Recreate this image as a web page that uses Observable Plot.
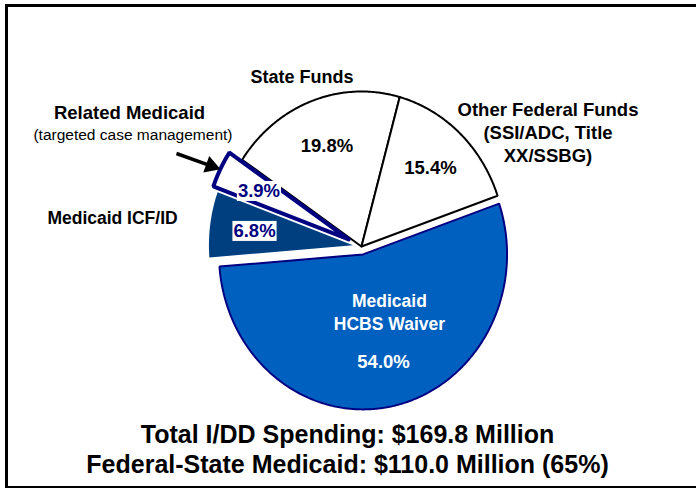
<!DOCTYPE html>
<html><head><meta charset="utf-8">
<script src="https://cdn.jsdelivr.net/npm/d3@7"></script>
<script src="https://cdn.jsdelivr.net/npm/@observablehq/plot@0.6"></script>
<style>
body{margin:0;background:#fff;}
#wrap{position:relative;width:696px;height:489px;overflow:hidden;background:#fff;}
#chart{position:absolute;left:0;top:0;}
#frame{position:absolute;left:5px;top:4px;width:740px;height:479px;border-left:3px solid #000;border-top:3px solid #000;border-bottom:2px solid #000;pointer-events:none;}
</style></head><body><div id="wrap"><div id="chart"></div><div id="frame"></div></div>
<script>
// ---- data ----
const categories = ["Other Federal Funds", "Medicaid HCBS Waiver", "Medicaid ICF/ID", "Related Medicaid", "State Funds"];
const shares = [15.4, 54.0, 6.8, 3.9, 19.8];
const pctLabels = ["15.4%", "54.0%", "6.8%", "3.9%", "19.8%"];
const nameLabels = ["Other Federal Funds\n(SSI/ADC, Title\nXX/SSBG)", "Medicaid\nHCBS Waiver", "Medicaid ICF/ID", "Related Medicaid", "State Funds"];
const noteLabel = "(targeted case management)";
const footerLines = ["Total I/DD Spending: $169.8 Million", "Federal-State Medicaid: $110.0 Million (65%)"];

// ---- styles / layout (pie-relative units: radius = 1) ----
const startDeg = 15.4;
const sliceStyle = {
  "Other Federal Funds": {explode: 0, fill: "#ffffff", stroke: "#000000", sw: 2},
  "Medicaid HCBS Waiver": {explode: 0.052, fill: "#0060BF", stroke: "#000080", sw: 2},
  "Medicaid ICF/ID": {explode: 0.06, fill: "#003F7F", stroke: "none", sw: 0},
  "Related Medicaid": {explode: 0.1, fill: "#ffffff", stroke: "#000080", sw: 4},
  "State Funds": {explode: 0, fill: "#ffffff", stroke: "#000000", sw: 2}
};
const drawOrder = ["State Funds", "Other Federal Funds", "Medicaid ICF/ID", "Medicaid HCBS Waiver", "Related Medicaid"];
const namePos = {
  "Other Federal Funds": {x: 1.295, y: 0.739, size: 18.5, color: "#000", lh: 1.24},
  "Medicaid HCBS Waiver": {x: 0.194, y: -0.415, size: 17.5, color: "#fff", lh: 1.31},
  "Medicaid ICF/ID": {x: -1.729, y: 0.188, size: 17.5, color: "#000", lh: 1.2},
  "Related Medicaid": {x: -1.611, y: 0.866, size: 18.5, color: "#000", lh: 1.2},
  "State Funds": {x: -0.413, y: 1.099, size: 18, color: "#000", lh: 1.2}
};
const pctPos = {
  "Other Federal Funds": {x: 0.479, y: 0.505, color: "#000", boxed: false},
  "Medicaid HCBS Waiver": {x: 0.153, y: -0.748, color: "#fff", boxed: false},
  "Medicaid ICF/ID": {x: -0.743, y: 0.100, color: "#000080", boxed: true},
  "Related Medicaid": {x: -0.712, y: 0.358, color: "#000080", boxed: true},
  "State Funds": {x: -0.240, y: 0.648, color: "#000", boxed: false}
};
const notePos = {x: -1.587, y: 0.719};
const arrowPos = {x1: -1.285, y1: 0.600, x2: -1.060, y2: 0.525};
const arrowTip = {x: -1.045, y: 0.520};
const footerPos = {x: -0.097, y: -1.305};
const pxPerUnit = {x: 144, y: 155};

// ---- geometry from values ----
const total = d3.sum(shares);
let acc = startDeg;
const slices = categories.map((c, i) => {
  const a0 = acc * Math.PI / 180;
  acc += shares[i] / total * 360;
  const a1 = acc * Math.PI / 180;
  return {category: c, share: shares[i], pct: pctLabels[i], name: nameLabels[i], a0, a1};
});
function slicePoints(s) {
  const e = sliceStyle[s.category].explode;
  const m = (s.a0 + s.a1) / 2;
  const ox = e * Math.sin(m), oy = e * Math.cos(m);
  const pts = [{x: ox, y: oy}];
  const n = Math.max(2, Math.ceil((s.a1 - s.a0) / 0.01));
  for (let k = 0; k <= n; k++) {
    const t = s.a0 + (s.a1 - s.a0) * k / n;
    pts.push({x: ox + Math.sin(t), y: oy + Math.cos(t)});
  }
  pts.push({x: ox, y: oy});
  return pts;
}

const marks = [];
for (const c of drawOrder) {
  const s = slices.find(d => d.category === c);
  const st = sliceStyle[c];
  marks.push(Plot.line(slicePoints(s), {x: "x", y: "y", fill: st.fill, stroke: st.stroke, strokeWidth: st.sw, strokeLinejoin: "miter", curve: "linear"}));
}
// category names
for (const s of slices) {
  const p = namePos[s.category];
  marks.push(Plot.text([s], {x: () => p.x, y: () => p.y, text: "name", fontSize: p.size, fontWeight: "bold", fill: p.color, lineHeight: p.lh, textAnchor: "middle", lineAnchor: "middle"}));
}
// percentages
for (const s of slices) {
  const p = pctPos[s.category];
  marks.push(Plot.text([s], {x: () => p.x, y: () => p.y, text: "pct", fontSize: 18.5, fontWeight: "bold", fill: p.color, textAnchor: "middle", lineAnchor: "middle", className: p.boxed ? "boxed" : undefined}));
}
marks.push(Plot.text([noteLabel], {x: () => notePos.x, y: () => notePos.y, text: d => d, fontSize: 15.5, fill: "#000", textAnchor: "middle", lineAnchor: "middle"}));
// arrow: shaft + filled triangular head
marks.push(Plot.link([arrowPos], {x1: "x1", y1: "y1", x2: "x2", y2: "y2", stroke: "#000", strokeWidth: 3.5}));
const arrowRot = Math.atan2(-(arrowPos.y2 - arrowPos.y1) * pxPerUnit.y, (arrowPos.x2 - arrowPos.x1) * pxPerUnit.x) * 180 / Math.PI + 90;
marks.push(Plot.dot([arrowTip], {x: "x", y: "y", symbol: "triangle", r: 6.5, fill: "#000", stroke: "none", rotate: arrowRot}));
marks.push(Plot.text([footerLines.join("\n")], {x: () => footerPos.x, y: () => footerPos.y, text: d => d, fontSize: 25, fontWeight: "bold", fill: "#000", lineHeight: 1.2, textAnchor: "middle", lineAnchor: "middle"}));

const chart = Plot.plot({
  width: 696, height: 489,
  marginLeft: 217, marginRight: 191, marginTop: 91, marginBottom: 88,
  x: {domain: [-1, 1], axis: null},
  y: {domain: [-1, 1], axis: null},
  style: {fontFamily: "'Liberation Sans', Arial, Helvetica, sans-serif", background: "#fff", overflow: "visible"},
  marks
});
document.getElementById("chart").appendChild(chart);

// white boxes behind boxed percentage labels
chart.querySelectorAll("g.boxed text").forEach(t => {
  const b = t.getBBox();
  const r = document.createElementNS("http://www.w3.org/2000/svg", "rect");
  r.setAttribute("x", b.x - 1); r.setAttribute("y", b.y + 1);
  r.setAttribute("width", b.width + 2); r.setAttribute("height", b.height - 1);
  r.setAttribute("fill", "#fff");
  if (t.getAttribute("transform")) r.setAttribute("transform", t.getAttribute("transform"));
  t.parentNode.insertBefore(r, t);
});
</script></body></html>
